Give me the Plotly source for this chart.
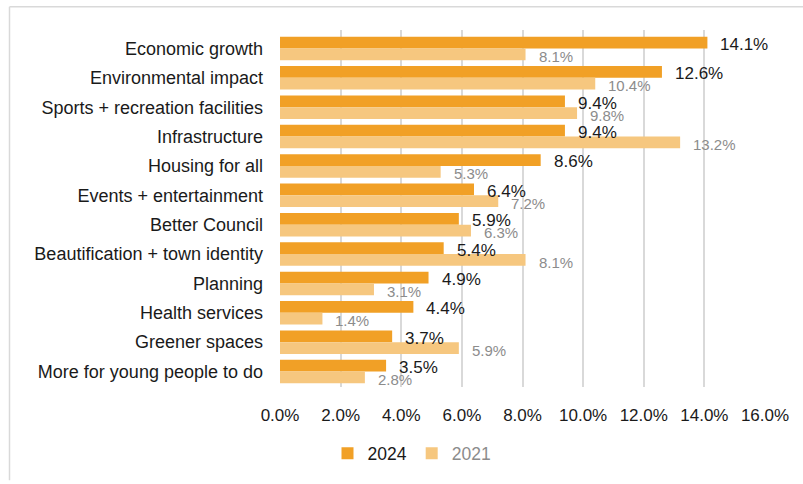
import plotly.graph_objects as go

categories = [
    "Economic growth",
    "Environmental impact",
    "Sports + recreation facilities",
    "Infrastructure",
    "Housing for all",
    "Events + entertainment",
    "Better Council",
    "Beautification + town identity",
    "Planning",
    "Health services",
    "Greener spaces",
    "More for young people to do",
]
values_2024 = [14.1, 12.6, 9.4, 9.4, 8.6, 6.4, 5.9, 5.4, 4.9, 4.4, 3.7, 3.5]
values_2021 = [8.1, 10.4, 9.8, 13.2, 5.3, 7.2, 6.3, 8.1, 3.1, 1.4, 5.9, 2.8]
x_ticks = [0, 2, 4, 6, 8, 10, 12, 14, 16]
x_tick_labels = [f"{t:.1f}%" for t in x_ticks]

COLOR_2024 = "#F1A026"
COLOR_2021 = "#F6C77F"
TEXT_DARK = "#1a1a1a"
TEXT_GREY = "#8c8c8c"
GRID = "#d9d9d9"
FONT = "Liberation Sans, Arial, sans-serif"

fig = go.Figure()
fig.add_trace(go.Bar(
    y=categories, x=values_2024, orientation="h", name="2024",
    marker=dict(color=COLOR_2024, line=dict(width=0)),
))
fig.add_trace(go.Bar(
    y=categories, x=values_2021, orientation="h",
    name=f"<span style='color:{TEXT_GREY}'>2021</span>",
    marker=dict(color=COLOR_2021, line=dict(width=0)),
))

# Value labels just past the end of each bar
annotations = []
for cat, v in zip(categories, values_2024):
    annotations.append(dict(
        x=v, y=cat, xref="x", yref="y", text=f"{v:.1f}%", showarrow=False,
        xanchor="left", yanchor="middle", xshift=11, yshift=4,
        font=dict(family=FONT, size=17, color=TEXT_DARK),
    ))
for cat, v in zip(categories, values_2021):
    annotations.append(dict(
        x=v, y=cat, xref="x", yref="y", text=f"{v:.1f}%", showarrow=False,
        xanchor="left", yanchor="middle", xshift=11, yshift=-8,
        font=dict(family=FONT, size=15, color=TEXT_GREY),
    ))

# Thin frame on the top and left edges of the chart
L, R, T, B = 280, 38, 30, 94
W, H = 803, 484
pw, ph = W - L - R, H - T - B
def px_x(p):
    return (p - L) / pw
def px_y(p):
    return (H - B - p) / ph

shapes = [
    dict(type="line", xref="paper", yref="paper",
         x0=px_x(9.5), x1=px_x(803), y0=px_y(6.5), y1=px_y(6.5),
         line=dict(color=GRID, width=1.5)),
    dict(type="line", xref="paper", yref="paper",
         x0=px_x(9.5), x1=px_x(9.5), y0=px_y(6.5), y1=px_y(484),
         line=dict(color=GRID, width=1.5)),
]

fig.update_layout(
    width=W, height=H,
    margin=dict(l=L, r=R, t=T, b=B, pad=0),
    paper_bgcolor="white", plot_bgcolor="white",
    barmode="group", bargap=0.2, bargroupgap=0,
    font=dict(family=FONT, size=17, color=TEXT_DARK),
    xaxis=dict(
        range=[0, 16], tickvals=x_ticks, ticktext=x_tick_labels,
        showgrid=True, gridcolor=GRID, gridwidth=1.5,
        zeroline=False, showline=False, ticks="",
        ticklabelstandoff=16,
        tickfont=dict(family=FONT, size=17, color=TEXT_DARK),
    ),
    yaxis=dict(
        autorange="reversed", showgrid=False, zeroline=False, showline=False,
        ticks="", ticklabelstandoff=16,
        tickfont=dict(family=FONT, size=18, color=TEXT_DARK),
    ),
    legend=dict(
        orientation="h", x=px_x(412), xanchor="center",
        y=px_y(457), yanchor="middle",
        font=dict(family=FONT, size=17.5, color=TEXT_DARK),
        itemwidth=30, traceorder="normal",
    ),
    annotations=annotations,
    shapes=shapes,
)

fig.write_html("out.html")
